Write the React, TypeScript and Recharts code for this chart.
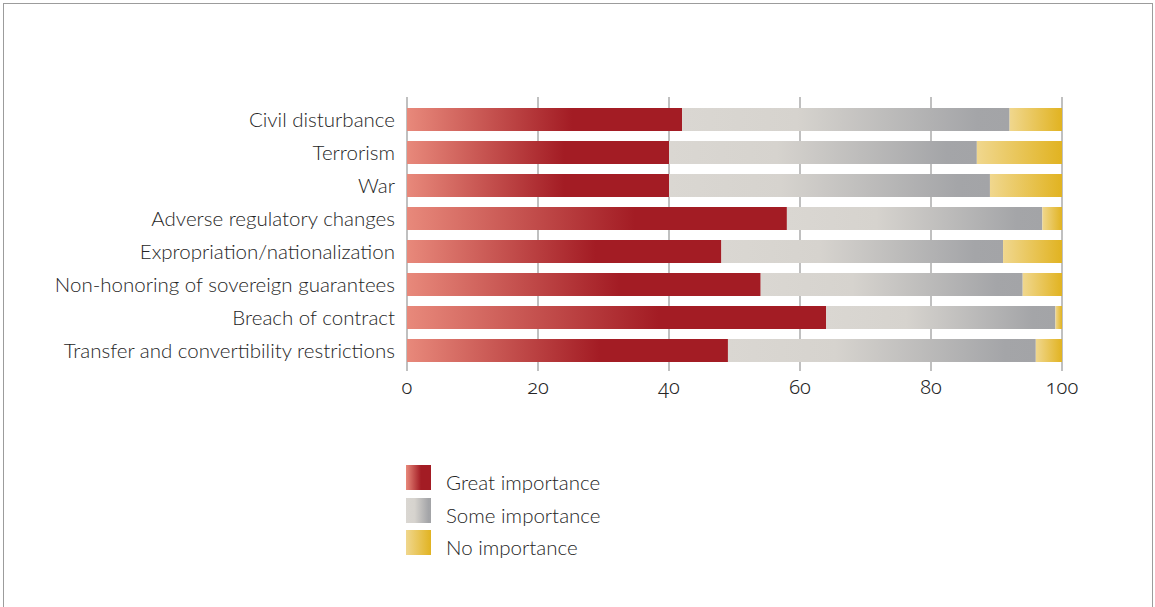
import React from 'react';
import { BarChart, Bar, XAxis, YAxis, CartesianGrid } from 'recharts';

const categories = [
  'Civil disturbance',
  'Terrorism',
  'War',
  'Adverse regulatory changes',
  'Expropriation/nationalization',
  'Non-honoring of sovereign guarantees',
  'Breach of contract',
  'Transfer and convertibility restrictions',
];
const greatImportance = [42, 40, 40, 58, 48, 54, 64, 49];
const someImportance = [50, 47, 49, 39, 43, 40, 35, 47];
const noImportance = [8, 13, 11, 3, 9, 6, 1, 4];
const xTicks = [0, 20, 40, 60, 80, 100];
const seriesNames = ['Great importance', 'Some importance', 'No importance'];

const data = categories.map((name, i) => ({
  name,
  great: greatImportance[i],
  some: someImportance[i],
  none: noImportance[i],
}));

const FONT = 'Lato, "Open Sans", sans-serif';
const NUMFONT = '"Noto Sans", Lato, sans-serif';
const TEXT = '#262626';

const legendItems = [
  { label: seriesNames[0], fill: 'url(#gRed)' },
  { label: seriesNames[1], fill: 'url(#gGray)' },
  { label: seriesNames[2], fill: 'url(#gYellow)' },
];

const LegendBlock = () => (
  <div style={{ position: 'absolute', left: 406, top: 461, fontFamily: FONT, fontSize: 20.5, fontWeight: 300, color: TEXT }}>
    {legendItems.map((it) => (
      <div key={it.label} style={{ display: 'flex', alignItems: 'center', height: 32.7 }}>
        <svg width={25} height={25} style={{ display: 'block' }}>
          <rect x={0} y={0} width={25} height={25} fill={it.fill} />
        </svg>
        <span style={{ marginLeft: 15, lineHeight: '25px', position: 'relative', top: 5 }}>{it.label}</span>
      </div>
    ))}
  </div>
);

export default function App() {
  return (
    <div style={{ position: 'absolute', left: 0, top: 0, width: 1155, height: 607, background: '#fff', overflow: 'hidden' }}>
      <div
        style={{
          position: 'absolute',
          left: 3,
          top: 3,
          width: 1150,
          height: 620,
          borderTop: '1.5px solid #9c9c9c',
          borderLeft: '1.5px solid #9c9c9c',
          borderRight: '1.5px solid #9c9c9c',
          boxSizing: 'border-box',
        }}
      />
      <div style={{ position: 'absolute', left: 0, top: 0 }}>
        <BarChart
          width={1155}
          height={607}
          data={data}
          layout="vertical"
          margin={{ top: 97, right: 93, bottom: 206, left: 0 }}
          barSize={23}
        >
          <defs>
            <linearGradient id="gRed" x1="0" y1="0" x2="1" y2="0">
              <stop offset="0" stopColor="#E8897B" />
              <stop offset="0.6" stopColor="#A31C24" />
              <stop offset="1" stopColor="#A31C24" />
            </linearGradient>
            <linearGradient id="gGray" x1="0" y1="0" x2="1" y2="0">
              <stop offset="0" stopColor="#DAD7D2" />
              <stop offset="0.35" stopColor="#D6D3CE" />
              <stop offset="0.9" stopColor="#A4A5A8" />
              <stop offset="1" stopColor="#A3A4A7" />
            </linearGradient>
            <linearGradient id="gYellow" x1="0" y1="0" x2="1" y2="0">
              <stop offset="0" stopColor="#F0D78E" />
              <stop offset="1" stopColor="#E1B321" />
            </linearGradient>
          </defs>
          <CartesianGrid horizontal={false} stroke="#ababab" strokeWidth={1.5} />
          <XAxis
            type="number"
            domain={[0, 100]}
            ticks={xTicks}
            axisLine={false}
            tickLine={false}
            tickSize={0}
            tickMargin={9}
            height={30}
            tick={{ fill: TEXT, fontSize: 20, fontFamily: NUMFONT, style: { fontVariantNumeric: 'oldstyle-nums', fontWeight: 300 } }}
          />
          <YAxis
            type="category"
            dataKey="name"
            width={407}
            axisLine={false}
            tickLine={false}
            tickSize={0}
            tickMargin={12}
            padding={{ top: 6, bottom: 4 }}
            interval={0}
            tick={{ fill: TEXT, fontSize: 20.5, fontFamily: FONT, fontWeight: 300 }}
          />
          <Bar dataKey="great" name={seriesNames[0]} stackId="a" fill="url(#gRed)" isAnimationActive={false} />
          <Bar dataKey="some" name={seriesNames[1]} stackId="a" fill="url(#gGray)" isAnimationActive={false} />
          <Bar dataKey="none" name={seriesNames[2]} stackId="a" fill="url(#gYellow)" isAnimationActive={false} />
        </BarChart>
      </div>
      <LegendBlock />
    </div>
  );
}
